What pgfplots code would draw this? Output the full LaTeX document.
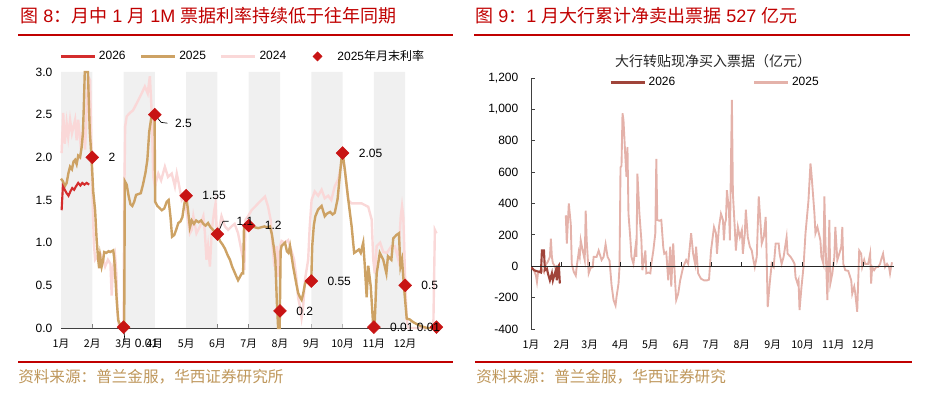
\documentclass[border=0pt]{standalone}
\usepackage{pgfplots}
\pgfplotsset{compat=1.18}
\usepackage{fontspec}
\setmainfont{Liberation Sans}
\newfontfamily\cjk{Noto Sans CJK SC}
\definecolor{titlered}{RGB}{192,0,0}
\definecolor{c2026}{RGB}{212,45,45}
\definecolor{c2025}{RGB}{205,162,100}
\definecolor{c2024}{RGB}{250,216,216}
\definecolor{cdia}{RGB}{200,20,20}
\definecolor{band}{RGB}{240,240,240}
\definecolor{r2026}{RGB}{160,68,58}
\definecolor{r2025}{RGB}{228,178,170}
\definecolor{foot}{RGB}{190,150,90}
\begin{document}
\begin{tikzpicture}[x=0.75pt,y=0.75pt]
\useasboundingbox (0,0) rectangle (928,393);
% ---------- titles and rules
\node[anchor=west, inner sep=0, text=titlered, font=\fontsize{13.5}{16}\selectfont] at (20,377) {{\cjk 图} 8{\cjk ：月中} 1 {\cjk 月} 1M {\cjk 票据利率持续低于往年同期}};
\draw[titlered, line width=1.5pt] (18,358) -- (453,358);
\node[anchor=west, inner sep=0, text=titlered, font=\fontsize{13.5}{16}\selectfont] at (475,377) {{\cjk 图} 9{\cjk ：}1 {\cjk 月大行累计净卖出票据} 527 {\cjk 亿元}};
\draw[titlered, line width=1.5pt] (474,358) -- (910,358);
\draw[titlered, line width=1.5pt] (18,31) -- (453,31);
\draw[titlered, line width=1.5pt] (475,31) -- (912,31);
\node[anchor=west, inner sep=0, text=foot, font=\cjk\fontsize{11.7}{14}\selectfont] at (18,16) {资料来源：普兰金服，华西证券研究所};
\node[anchor=west, inner sep=0, text=foot, font=\cjk\fontsize{11.7}{14}\selectfont] at (476,16) {资料来源：普兰金服，华西证券研究};
\node[inner sep=0, text=black!85, font=\cjk\fontsize{10.5}{12}\selectfont] at (713,332) {大行转贴现净买入票据（亿元）};

% ---------- left chart
\begin{axis}[
  at={(45.75pt,48.75pt)}, anchor=south west, scale only axis,
  width=282.75pt, height=192pt,
  xmin=0, xmax=12.05, ymin=0, ymax=3,
  axis lines*=left, clip=false,
  axis line style={black!75, line width=0.7pt},
  tick style={black!75, line width=0.6pt},
  tick align=inside, major tick length=3pt,
  xtick={0,1,2,3,4,5,6,7,8,9,10,11},
  xticklabels={1月,2月,3月,4月,5月,6月,7月,8月,9月,10月,11月,12月},
  xticklabel style={font=\cjk\fontsize{8}{10}\selectfont, yshift=-5pt},
  ytick={0,0.5,1,1.5,2,2.5,3},
  yticklabels={0.0,0.5,1.0,1.5,2.0,2.5,3.0},
  yticklabel style={font=\fontsize{9}{10}\selectfont, xshift=-3pt},
  legend style={at={(axis description cs:-0.005,1.061)}, anchor=west, draw=none, fill=none,
    font=\fontsize{9}{11}\selectfont, inner sep=0pt,
    /tikz/every even column/.append style={column sep=8.5pt}},
  legend columns=4,
  legend image code/.code={\draw[#1,mark repeat=2,mark phase=2] plot coordinates {(0pt,0pt) (12.75pt,0pt) (25.5pt,0pt)};},
]
\addlegendimage{c2026, line width=2.2pt}\addlegendentry{2026}
\addlegendimage{c2025, line width=2.2pt}\addlegendentry{2025}
\addlegendimage{c2024, line width=2.2pt}\addlegendentry{2024}
\addlegendimage{draw opacity=0, mark=square*, mark size=2.4pt, mark options={draw opacity=1, rotate=45, fill=cdia, draw=cdia}}\addlegendentry{2025{\cjk 年月末利率}}

\addplot[ybar interval, fill=band, draw=none, forget plot] coordinates {(0,3)(1,0)(2,3)(3,0)(4,3)(5,0)(6,3)(7,0)(8,3)(9,0)(10,3)(11,0)(12,0)};

% 2024
\addplot[c2024, line width=1.8pt, forget plot] coordinates {
(0.02,2.05) (0.07,2.52) (0.12,2.16) (0.18,2.40) (0.23,2.24) (0.29,2.44) (0.35,2.28) (0.45,2.44) (0.50,2.20) (0.55,2.44) (0.64,2.09) (0.71,2.36) (0.77,2.09) (0.82,2.56) (0.87,2.95) (0.93,2.90) (0.98,1.97) (1.01,1.5) (1.05,1.0) (1.09,0.80) (1.17,0.84) (1.25,0.88) (1.35,0.80) (1.41,0.72) (1.50,0.80) (1.58,0.75) (1.62,0.38) (1.66,0.70) (1.73,0.84) (1.77,0.64) (1.80,0.20) (1.85,0.02) (1.95,0.0) (2.0,0.02) (2.02,1.46) (2.05,2.36) (2.10,2.48) (2.20,2.52) (2.30,2.55) (2.36,2.59) (2.47,2.67) (2.58,2.75) (2.68,2.83) (2.77,2.75) (2.84,2.95) (2.90,2.52) (2.95,1.77) (3.0,1.66) (3.11,1.81) (3.2,1.73) (3.32,1.89) (3.42,1.77) (3.54,1.81) (3.64,1.66) (3.70,1.81) (3.76,1.70) (3.86,1.50) (3.95,1.55) (4.02,1.34) (4.07,1.23) (4.12,1.11) (4.18,1.15) (4.23,1.31) (4.33,1.11) (4.44,1.19) (4.55,1.31) (4.60,1.11) (4.65,0.80) (4.70,0.96) (4.76,0.72) (4.82,1.15) (4.90,1.38) (4.94,1.46) (4.97,1.19) (5.03,1.11) (5.13,1.31) (5.24,1.19) (5.34,1.15) (5.45,1.19) (5.55,1.22) (5.66,1.11) (5.74,0.96) (5.82,0.80) (5.86,0.68) (5.90,1.27) (5.98,1.31) (6.09,1.38) (6.20,1.42) (6.30,1.46) (6.41,1.50) (6.52,1.54) (6.62,1.42) (6.70,1.27) (6.78,0.88) (6.82,0.72) (6.89,0.96) (6.94,0.60) (7.0,0.96) (7.05,1.02) (7.15,1.0) (7.26,1.03) (7.37,0.90) (7.45,0.80) (7.52,0.60) (7.58,0.35) (7.64,0.25) (7.69,0.12) (7.74,0.25) (7.80,0.57) (7.90,0.80) (7.95,1.19) (8.01,1.5) (8.11,1.60) (8.22,1.55) (8.33,1.62) (8.43,1.52) (8.54,1.55) (8.64,1.50) (8.75,1.66) (8.86,1.74) (8.97,1.93) (9.02,2.0) (9.07,1.86) (9.18,1.50) (9.29,1.46) (9.45,1.46) (9.61,1.46) (9.82,1.42) (9.93,1.27) (9.98,0.80) (10.03,0.64) (10.09,0.96) (10.20,1.0) (10.30,0.89) (10.42,0.88) (10.56,0.96) (10.67,0.96) (10.78,0.80) (10.86,1.31) (10.90,1.43) (10.94,1.31) (11.0,0.57) (11.05,0.10) (11.10,0.0) (11.9,0.0) (11.95,1.15) (12.0,1.11)};

% 2025
\addplot[c2025, line width=1.8pt, forget plot] coordinates {
(0.0,1.75) (0.06,1.72) (0.12,1.66) (0.18,1.70) (0.24,1.82) (0.29,1.89) (0.35,1.86) (0.40,1.95) (0.45,1.97) (0.5,1.92) (0.55,2.02) (0.61,2.0) (0.66,2.12) (0.70,2.28) (0.73,2.6) (0.76,3.0) (0.86,3.0) (0.92,2.3) (0.98,1.97) (1.03,1.6) (1.09,1.38) (1.14,1.03) (1.19,0.80) (1.22,0.70) (1.25,0.84) (1.30,0.72) (1.35,0.80) (1.38,0.89) (1.45,0.88) (1.52,0.90) (1.57,0.89) (1.62,0.90) (1.67,0.91) (1.70,0.82) (1.73,0.64) (1.78,0.33) (1.83,0.09) (1.91,0.02) (1.97,0.0) (2.02,0.0) (2.04,1.72) (2.10,1.68) (2.16,1.55) (2.22,1.45) (2.28,1.43) (2.34,1.48) (2.40,1.56) (2.48,1.57) (2.55,1.58) (2.62,1.68) (2.70,1.82) (2.76,1.97) (2.82,2.30) (2.88,2.45) (2.95,2.52) (2.99,2.5) (3.01,1.48) (3.08,1.43) (3.14,1.41) (3.22,1.38) (3.30,1.40) (3.38,1.48) (3.44,1.50) (3.50,1.30) (3.55,1.07) (3.62,1.09) (3.68,1.15) (3.75,1.23) (3.82,1.25) (3.88,1.30) (3.94,1.45) (4.0,1.55) (4.06,1.38) (4.12,1.18) (4.18,1.26) (4.25,1.22) (4.32,1.26) (4.40,1.24) (4.48,1.26) (4.55,1.22) (4.62,1.20) (4.70,1.23) (4.78,1.18) (4.86,1.15) (4.93,1.12) (5.0,1.10) (5.08,1.02) (5.16,0.98) (5.24,0.93) (5.33,0.85) (5.40,0.80) (5.47,0.72) (5.54,0.66) (5.61,0.60) (5.66,0.56) (5.72,0.60) (5.78,0.64) (5.82,0.64) (5.85,1.19) (5.92,1.20) (6.0,1.20) (6.1,1.19) (6.2,1.18) (6.3,1.17) (6.4,1.18) (6.5,1.19) (6.6,1.18) (6.68,1.19) (6.74,1.10) (6.80,0.95) (6.85,0.80) (6.90,0.30) (6.94,0.0) (6.99,0.0) (7.02,0.90) (7.05,0.96) (7.10,0.98) (7.16,1.0) (7.22,0.90) (7.27,0.88) (7.32,0.96) (7.37,0.84) (7.42,0.72) (7.48,0.60) (7.53,0.50) (7.58,0.41) (7.64,0.36) (7.69,0.33) (7.74,0.40) (7.80,0.52) (7.86,0.56) (7.92,0.57) (7.97,0.58) (8.0,0.56) (8.03,0.96) (8.08,1.20) (8.13,1.31) (8.22,1.39) (8.33,1.43) (8.43,1.31) (8.50,1.34) (8.60,1.36) (8.68,1.33) (8.75,1.35) (8.84,1.51) (8.91,1.78) (8.97,2.0) (9.0,2.05) (9.07,1.86) (9.18,1.51) (9.29,1.19) (9.37,0.88) (9.45,0.90) (9.52,0.92) (9.58,0.88) (9.66,1.00) (9.71,0.73) (9.77,0.36) (9.82,0.73) (9.90,0.49) (9.98,0.02) (10.02,0.0) (10.09,0.64) (10.19,0.88) (10.30,0.80) (10.40,0.64) (10.45,0.84) (10.56,0.80) (10.62,1.05) (10.72,1.09) (10.80,1.11) (10.85,0.72) (10.90,0.80) (10.97,0.45) (11.05,0.11) (11.15,0.10) (11.25,0.07) (11.35,0.05) (11.52,0.02) (11.7,0.0) (11.95,0.0)};

% 2026
\addplot[c2026, line width=1.6pt, forget plot] coordinates {
(0.02,1.38) (0.06,1.66) (0.12,1.62) (0.18,1.58) (0.24,1.55) (0.30,1.60) (0.36,1.64) (0.42,1.62) (0.48,1.66) (0.55,1.70) (0.62,1.67) (0.68,1.70) (0.75,1.68) (0.82,1.70) (0.90,1.68)};

% month-end diamonds
\addplot[only marks, mark=square*, mark size=3.4pt, mark options={rotate=45, fill=cdia, draw=cdia}, forget plot] coordinates {(1,2)(2,0.01)(3,2.5)(4,1.55)(5,1.1)(6,1.2)(7,0.2)(8,0.55)(9,2.05)(10,0.01)(11,0.5)(12,0.01)};

\draw[black, line width=0.5pt] (axis cs:3,2.5) -- (axis cs:3.2,2.41) -- (axis cs:3.40,2.40);
\draw[black, line width=0.5pt] (axis cs:5,1.1) -- (axis cs:5.18,1.25) -- (axis cs:5.36,1.25);
\draw[black, line width=0.5pt] (axis cs:2,0) -- (axis cs:2.05,-0.17);

\addplot[draw=none, mark=none, forget plot, point meta=explicit symbolic, nodes near coords,
  nodes near coords style={anchor=west, inner sep=0pt, xshift=12pt, font=\fontsize{9}{10}\selectfont, text=black}]
  table[meta=l] {
x y l
1 2 2
4 1.55 1.55
6 1.2 1.2
7 0.2 0.2
8 0.55 0.55
9 2.05 2.05
10 0.01 0.01
11 0.5 0.5
};
\addplot[draw=none, mark=none, forget plot, point meta=explicit symbolic, nodes near coords,
  nodes near coords style={anchor=west, inner sep=0pt, xshift=15pt, yshift=-6.75pt, font=\fontsize{9}{10}\selectfont, text=black}]
  table[meta=l] {
x y l
3 2.5 2.5
};
\addplot[draw=none, mark=none, forget plot, point meta=explicit symbolic, nodes near coords,
  nodes near coords style={anchor=west, inner sep=0pt, xshift=14.25pt, yshift=9.75pt, font=\fontsize{9}{10}\selectfont, text=black}]
  table[meta=l] {
x y l
5 1.1 1.1
};
\addplot[draw=none, mark=none, forget plot, point meta=explicit symbolic, nodes near coords,
  nodes near coords style={anchor=west, inner sep=0pt, xshift=8.25pt, yshift=-12pt, font=\fontsize{9}{10}\selectfont, text=black}]
  table[meta=l] {
x y l
2 0.01 0.01
};
\addplot[draw=none, mark=none, forget plot, point meta=explicit symbolic, nodes near coords,
  nodes near coords style={anchor=east, inner sep=0pt, xshift=3pt, font=\fontsize{9}{10}\selectfont, text=black}]
  table[meta=l] {
x y l
12 0.01 0.01
};
\end{axis}

% ---------- right chart
\begin{axis}[
  at={(398.25pt,48pt)}, anchor=south west, scale only axis,
  width=272.25pt, height=188.25pt,
  xmin=0, xmax=365, ymin=-400, ymax=1200,
  axis y line*=left, axis x line*=bottom,
  x axis line style={draw=none},
  y axis line style={black!75, line width=0.7pt},
  tick align=inside, major tick length=3pt,
  ytick style={black!75, line width=0.6pt},
  xtick style={draw=none},
  xtick={0,31,59,90,120,151,181,212,243,273,304,334},
  xticklabels={1月,2月,3月,4月,5月,6月,7月,8月,9月,10月,11月,12月},
  xticklabel style={font=\cjk\fontsize{8}{10}\selectfont, yshift=-5pt},
  ytick={-400,-200,0,200,400,600,800,1000,1200},
  yticklabels={-400,-200,0,200,400,600,800,{1,000},{1,200}},
  yticklabel style={font=\fontsize{9}{10}\selectfont, xshift=-6pt},
  unbounded coords=jump,
  legend style={at={(axis description cs:0.215,0.983)}, anchor=west, draw=none, fill=none,
    font=\fontsize{9}{11}\selectfont, inner sep=0pt,
    /tikz/every even column/.append style={column sep=56pt}},
  legend columns=2,
  legend image code/.code={\draw[#1] (0pt,0pt) -- (25.5pt,0pt);},
]
\addlegendimage{r2026, line width=2pt}\addlegendentry{2026}
\addlegendimage{r2025, line width=2pt}\addlegendentry{2025}

\addplot[r2025, line width=1.4pt, forget plot] coordinates {
(0,-5) (3,-25) (5,-60) (6,-100) (7,-45) (9,-30) (11,-20) (13,-40) (15,10) (17,30) (19,60) (20,175) (21,60) (22,20) (24,0) (26,-45) (28,-20) (30,nan)
(35,325) (36,145) (38,400) (40,270) (41,15) (43,-35) (45,-60) (46,0) (48,90) (49,60) (50,165) (52,100) (54,40) (55,355) (56,165) (58,-45) (60,-10) (62,-5) (63,60) (66,60) (68,100) (69,80) (71,40) (73,60) (75,140) (77,60) (79,35) (81,-120) (83,-215) (85,-250) (86,-195) (88,-110) (89,-5) (90,630) (91,640) (92,975) (93,930) (95,680) (96,570) (97,760) (98,335) (100,165) (101,60) (103,15) (105,120) (106,60) (107,590) (109,335) (111,165) (112,-25) (115,100) (116,-45) (118,-40) (120,-45) (121,15) (123,100) (125,210) (126,685) (127,295) (129,290) (131,295) (133,120) (134,80) (136,90) (138,-90) (140,125) (141,-130) (143,145) (145,-110) (146,-215) (148,-175) (150,-90) (153,-5) (156,40) (158,15) (161,210) (163,80) (165,15) (166,125) (168,-45) (171,-80) (174,-90) (177,-90) (179,-85) (181,100) (184,250) (186,210) (187,80) (189,250) (191,335) (193,295) (194,165) (195,275) (196,295) (197,485) (199,360) (200,165) (201,635) (202,1060) (203,465) (205,230) (206,100) (208,250) (210,185) (212,230) (213,80) (215,210) (216,360) (218,185) (220,125) (222,100) (223,60) (225,-5) (227,60) (229,445) (231,250) (232,145) (234,185) (236,315) (237,40) (238,-260) (240,-110) (242,15) (244,-5) (246,145) (249,145) (250,80) (252,15) (254,60) (257,185) (258,80) (261,60) (263,40) (265,15) (266,-70) (268,-110) (269,-90) (270,-280) (272,-130) (274,-5) (276,210) (279,420) (281,655) (282,590) (285,335) (286,210) (288,250) (291,165) (292,60) (294,15) (295,445) (296,165) (298,-215) (300,295) (301,-110) (303,-45) (305,60) (306,250) (308,40) (310,80) (312,125) (313,250) (314,15) (316,-25) (319,-30) (322,-90) (323,-175) (325,-130) (326,-170) (328,-290) (330,100) (332,80) (333,-5) (335,40) (336,15) (339,15) (341,80) (342,-110) (343,-5) (345,-25) (347,-5) (349,-5) (351,15) (352,40) (354,80) (356,-5) (358,15) (360,-5) (361,-45) (362,-5) (363,25)};

\addplot[r2026, line width=1.6pt, forget plot] coordinates {
(0,-5) (3,-25) (5,-30) (8,-35) (10,-40) (11,100) (13,100) (14,-25) (16,-15) (17,-45) (19,-90) (21,-45) (22,-90) (24,-45) (25,-25) (26,-90) (27,-5) (28,5) (29,-110)};
\end{axis}

% zero line of the right chart
\begin{axis}[
  at={(398.25pt,48pt)}, anchor=south west, scale only axis,
  width=272.25pt, height=188.25pt,
  xmin=0, xmax=365, ymin=-400, ymax=1200,
  axis x line*=middle, axis y line=none,
  axis line style={black!85, line width=0.8pt},
  xtick={31,59,90,120,151,181,212,243,273,304,334},
  xticklabels={},
  ytick=\empty,
  tick align=inside, major tick length=3pt,
  xtick style={black!85, line width=0.6pt},
]
\end{axis}
\end{tikzpicture}
\end{document}
